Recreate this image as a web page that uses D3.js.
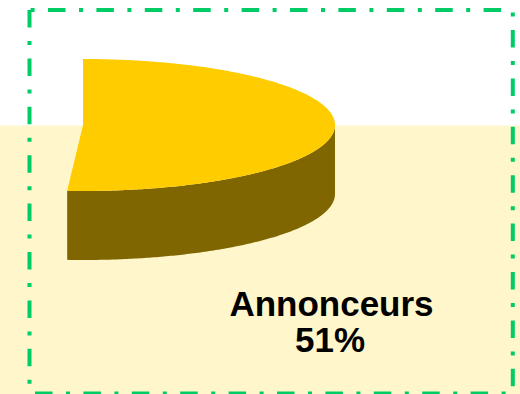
<!DOCTYPE html>
<html>
<head>
<meta charset="utf-8">
<script src="https://cdn.jsdelivr.net/npm/d3@7"></script>
<style>
  html, body { margin: 0; padding: 0; background: #ffffff; }
  svg { display: block; }
</style>
</head>
<body>
<svg id="chart" width="520" height="394"></svg>
<script>
// Slice data
const categories = ["Annonceurs"];
const shares = [51];            // percent of the whole
const shareLabels = ["51%"];

const W = 520, H = 394;
const svg = d3.select("#chart");

// Floor band behind the pie
svg.append("rect")
  .attr("x", 0).attr("y", 125.5)
  .attr("width", W).attr("height", H - 125.5)
  .attr("fill", "#FFF6CC");

// 3D pie geometry (elliptical top face + extruded front side)
const cx = 83, cy = 125, rx = 252, ry = 66, depth = 69;
const angle = d3.scaleLinear().domain([0, 100]).range([0, 2 * Math.PI]);
const pt = (t, dy = 0) => [cx + rx * Math.sin(t), cy - ry * Math.cos(t) + dy];
const arcPts = (t0, t1, dy = 0) => {
  const n = Math.max(2, Math.ceil(Math.abs(t1 - t0) / 0.01));
  return d3.range(n + 1).map(i => pt(t0 + (t1 - t0) * i / n, dy));
};
const line = d3.line();

let acc = 0;
shares.forEach((v, i) => {
  const t0 = angle(acc), t1 = angle(acc + v);
  acc += v;

  // Front side: only the part of the rim facing the viewer (3 to 9 o'clock)
  const s0 = Math.max(t0, Math.PI / 2), s1 = Math.min(t1, 3 * Math.PI / 2);
  if (s1 > s0) {
    const side = arcPts(s0, s1).concat(arcPts(s1, s0, depth));
    svg.append("path")
      .attr("d", line(side) + "Z")
      .attr("fill", "#806600");
  }

  // Top face
  const top = [[cx, cy]].concat(arcPts(t0, t1));
  svg.append("path")
    .attr("d", line(top) + "Z")
    .attr("fill", "#FFCC00");

  // Label
  const lbl = svg.append("text")
    .attr("x", 331.5).attr("y", 316)
    .attr("text-anchor", "middle")
    .attr("font-family", "Liberation Sans, Arial, sans-serif")
    .attr("font-weight", "bold")
    .attr("font-size", 35)
    .attr("fill", "#000");
  lbl.append("tspan").attr("x", 331.5).text(categories[i]);
  lbl.append("tspan").attr("x", 330).attr("dy", 35.7).text(shareLabels[i]);
});

// Dash-dot frame, each side drawn with its own dash phase
const dash = "17.5,13.5,4,13.4";
const x0 = 29.5, x1 = 512.8, y0 = 10, y1 = 393.5;
const sides = [
  { a: [x0, y0], b: [x0, y1], off: 0 },
  { a: [x0, y0], b: [x1, y0], off: 29.9 },
  { a: [x1, y0], b: [x1, y1], off: 28.4 },
  { a: [x0, y1], b: [x1, y1], off: 42.9 }
];
svg.selectAll("line.frame")
  .data(sides)
  .join("line")
  .attr("class", "frame")
  .attr("x1", d => d.a[0]).attr("y1", d => d.a[1])
  .attr("x2", d => d.b[0]).attr("y2", d => d.b[1])
  .attr("stroke", "#00CC66")
  .attr("stroke-width", 4)
  .attr("stroke-dasharray", dash)
  .attr("stroke-dashoffset", d => d.off);
</script>
</body>
</html>
